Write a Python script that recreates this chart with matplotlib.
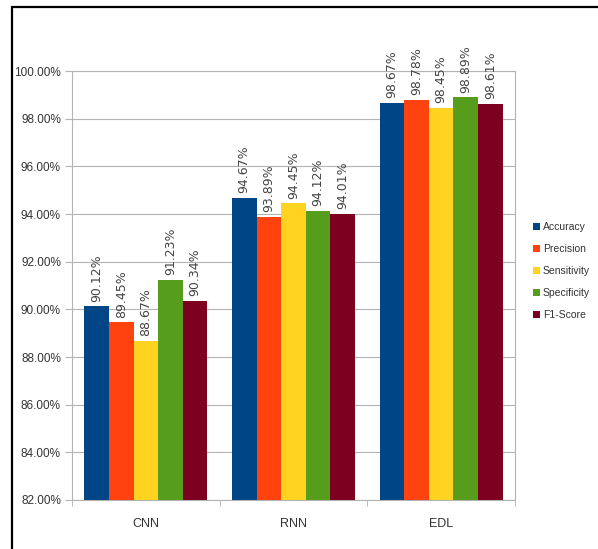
import numpy as np
import matplotlib.pyplot as plt
from matplotlib.patches import Patch, Rectangle
from matplotlib.ticker import FuncFormatter, FixedLocator

plt.rcParams['font.family'] = ['Liberation Sans', 'DejaVu Sans']

models = ["CNN", "RNN", "EDL"]
metrics = ["Accuracy", "Precision", "Sensitivity", "Specificity", "F1-Score"]
accuracy = [90.12, 94.67, 98.67]
precision = [89.45, 93.89, 98.78]
sensitivity = [88.67, 94.45, 98.45]
specificity = [91.23, 94.12, 98.89]
f1_score = [90.34, 94.01, 98.61]
colors = ["#004586", "#ff420e", "#ffd320", "#579d1c", "#7e0021"]

series = [accuracy, precision, sensitivity, specificity, f1_score]

fig = plt.figure(figsize=(5.98, 5.49), dpi=100)
ax = fig.add_axes([72 / 598, 1 - 500 / 549, 443 / 598, 429 / 549])

x = np.arange(len(models))
w = 0.167
for i, (vals, c) in enumerate(zip(series, colors)):
    pos = x + (i - 2) * w
    ax.bar(pos, vals, width=w, color=c, bottom=0, zorder=3)
    for p, v in zip(pos, vals):
        ax.text(p, v + 0.2, f"{v:.2f}%", rotation=90, ha="center", va="bottom",
                fontsize=9, color="#444444", family="DejaVu Sans", zorder=4)

ax.set_ylim(82, 100)
ax.set_xlim(-0.5, 2.5)
ax.set_yticks(np.arange(82, 100.1, 2))
ax.yaxis.set_major_formatter(FuncFormatter(lambda v, _: f"{v:.2f}%"))
ax.set_xticks(x)
ax.set_xticklabels(models)
ax.xaxis.set_minor_locator(FixedLocator([-0.5, 0.5, 1.5, 2.5]))
ax.tick_params(axis="x", which="major", length=0, pad=13, labelsize=9, labelcolor="#333333")
ax.tick_params(axis="x", which="minor", length=4, color="#b3b3b3")
ax.tick_params(axis="y", length=5, color="#b3b3b3", labelsize=8.5, labelcolor="#333333", pad=3)
ax.grid(axis="y", color="#b3b3b3", linewidth=0.8, zorder=0)
for s in ax.spines.values():
    s.set_color("#b3b3b3")
    s.set_linewidth(0.8)

handles = [Patch(facecolor=c, label=m) for c, m in zip(colors, metrics)]
fig.legend(handles=handles, loc="center left", bbox_to_anchor=(526 / 598, 1 - 271 / 549),
           frameon=False, fontsize=7.5, handlelength=0.6, handleheight=0.6,
           handletextpad=0.3, labelspacing=1.15, labelcolor="#333333",
           borderpad=0.2)

# frame around the picture (only top and left edges visible)
fig.patches.append(Rectangle((12 / 598, -0.2), 1.2, 1.2 - 7 / 549,
                             transform=fig.transFigure, fill=False,
                             edgecolor="black", linewidth=1.6))

fig.savefig("out.png", dpi=100)
